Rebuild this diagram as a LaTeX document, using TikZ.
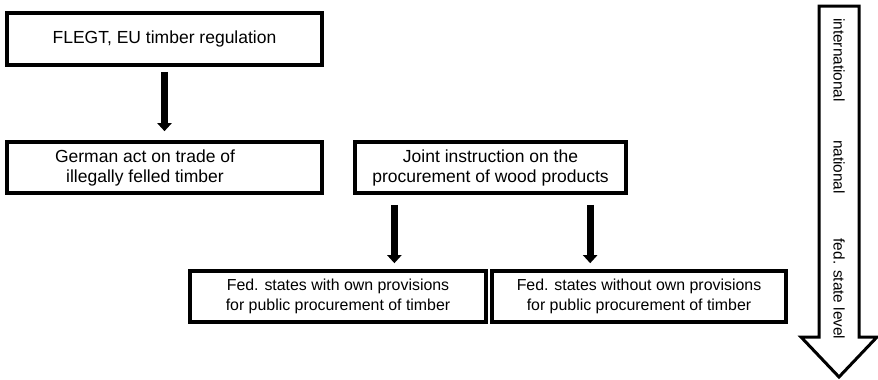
\documentclass[tikz,border=0pt]{standalone}
\usepackage{fontspec}
\setmainfont{Liberation Sans}
\usetikzlibrary{arrows.meta,calc}

\begin{document}
\begin{tikzpicture}[x=0.5pt,y=-0.5pt,
	box/.style={draw,line width=1.8pt,inner sep=0pt,align=center,font=\fontsize{8.75}{10}\selectfont,minimum height=25.5pt},
	subbox/.style={box,font=\fontsize{7.95}{10}\selectfont},
	flow/.style={line width=3.5pt,-{Triangle[width=7pt,length=4pt]}},
	level/.style={rotate=-90,font=\fontsize{7.7}{9}\selectfont}]
	\useasboundingbox (0,0) rectangle (878,380);
	\node[box,minimum width=157.5pt,minimum height=26pt] (flegt) at (164.5,39) {FLEGT, EU timber regulation};
	\node[box,minimum width=157.5pt] (german) at (164.5,167.5) {};
	\node[align=center,font=\fontsize{8.75}{10}\selectfont,xshift=-9.75pt] (germantext) at (german) {German act on trade of\\illegally felled timber};
	\node[box,minimum width=135.5pt] (joint) at (490.5,167.5) {Joint instruction on the\\procurement of wood products};
	\node[subbox,minimum width=148pt] (fedown) at (338,296.5) {Fed. states with own provisions\\for public procurement of timber};
	\node[subbox,minimum width=147pt] (fedwithout) at (639,296.5) {Fed. states without own provisions\\for public procurement of timber};
	\draw[flow,shorten <=2.5pt,shorten >=4.5pt] (flegt.south) -- (german.north);
	\coordinate (jl) at ($(joint.south west)!0.15!(joint.south east)$);
	\coordinate (jr) at ($(joint.south west)!0.863!(joint.south east)$);
	\draw[flow,shorten <=5pt,shorten >=3pt] (jl) -- (jl |- fedown.north);
	\draw[flow,shorten <=5pt,shorten >=3pt] (jr) -- (jr |- fedwithout.north);
	\draw[line width=1.5pt] (819,6) -- (859,6) -- (859,337) -- (877,337) -- (839,377) -- (801,337) -- (819,337) -- cycle;
	\node[level] (intl) at (839,60) {international};
	\node[level] (natl) at (839,167) {national};
	\node[level] (fedlevel) at (839,289) {fed. state level};
\end{tikzpicture}
\end{document}
